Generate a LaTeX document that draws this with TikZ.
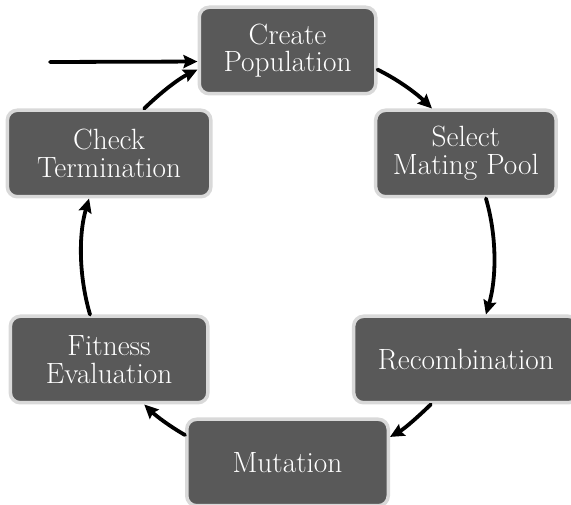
\documentclass[tikz,border=0pt]{standalone}
\usetikzlibrary{arrows.meta}
\definecolor{boxfill}{HTML}{595959}
\definecolor{boxedge}{HTML}{D9D9D9}
\begin{document}
\begin{tikzpicture}[x=1pt,y=1pt,
  stage/.style={rectangle, rounded corners=10pt, fill=boxfill, draw=boxedge,
    line width=3.5pt, text=white, align=center, minimum height=86.5pt,
    inner sep=0pt, font=\fontsize{29.3}{27.5}\selectfont},
  flow/.style={line width=3.8pt, line cap=round, looseness=0.85,
    -{Stealth[length=14pt,width=13pt,inset=2pt]}}]
\useasboundingbox (0,0) rectangle (571,505);

% stages of the evolutionary loop, placed on a circle of radius 206
\node[stage, minimum width=176.5pt] (create)   at (287.5,454.5) {Create\\Population};
\node[stage, minimum width=180.5pt] (select)   at (465.9,351.5) {Select\\Mating Pool};
\node[stage, minimum width=224.5pt] (recomb)   at (465.9,145.5) {Recombination};
\node[stage, minimum width=201.5pt] (mutation) at (287.5,42.5)  {Mutation};
\node[stage, minimum width=197.5pt] (fitness)  at (109.1,145.5) {Fitness\\Evaluation};
\node[stage, minimum width=203.5pt] (check)    at (109.1,351.5) {Check\\Termination};

% clockwise arcs between the stages
\draw[flow] (create.-12.95) to[out=-25.9, in=135.9] (select.127.95);
\draw[flow] (select.-66.8) to[out=-73.65, in=73.65] (recomb.66.8);
\draw[flow] (recomb.232.05) to[out=224.1, in=29.84] (mutation.14.9);
\draw[flow] (mutation.165.1) to[out=150.16, in=-44.1] (fitness.-52.05);
\draw[flow] (fitness.113.2) to[out=106.35, in=253.65] (check.246.8);
\draw[flow] (check.52.05) to[out=44.1, in=205.9] (create.192.95);

% entry arrow
\coordinate (entry) at (50,443);
\draw[flow] (entry) -- (create.187.3);
\end{tikzpicture}
\end{document}
